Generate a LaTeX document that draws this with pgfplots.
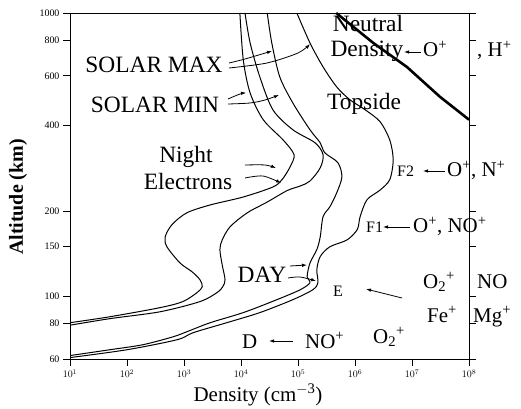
\documentclass[border=0pt]{standalone}
\usepackage{pgfplots}
\pgfplotsset{compat=1.18}
\usepackage{fontspec}
\setmainfont{Liberation Serif}
\usetikzlibrary{arrows.meta}

\newcommand\Lg{\fontsize{23.5}{25}\selectfont}
\newcommand\Md{\fontsize{21}{23}\selectfont}
\newcommand\Sm{\fontsize{16}{18}\selectfont}

% Ionospheric density profiles: log10(density / cm^-3) versus altitude (km)
\pgfplotstableread{
logn alt
1.00 80.6
1.70 84.6
2.58 91.1
2.98 95.7
3.23 103
3.32 108
3.28 114.3
3.14 122
2.93 131
2.70 149.5
2.67 162
2.79 179
3.05 197
3.46 210
4.04 224
4.56 243
4.72 258
4.86 286
4.93 316
4.74 356
4.39 420
4.16 522
4.04 683
3.98 1000
}\nightmin

\pgfplotstableread{
logn alt
1.00 79.0
1.70 83.3
2.58 88.1
3.28 95.7
3.58 103
3.68 108
3.72 114.3
3.67 129
3.63 146
3.67 158
3.81 176
4.11 197
4.46 215
4.81 236
5.04 245
5.21 255
5.39 284
5.44 316
5.30 348
4.91 387
4.56 455
4.33 595
4.16 784
4.07 1000
}\nightmax

\pgfplotstableread{
logn alt
1.00 61.7
1.70 64.7
2.28 67.4
2.81 71.9
3.05 74.9
3.46 80.6
4.04 87.5
4.63 97.2
5.04 105.4
5.21 111.6
5.16 117
5.21 131
5.33 146
5.39 162
5.44 191
5.56 207
5.68 232
5.77 264
5.70 296
5.47 321
5.39 348
5.21 387
4.91 481
4.68 595
4.54 784
4.46 1000
}\daymin

\pgfplotstableread{
logn alt
1.00 60.7
2.00 64.7
2.88 70.2
3.16 74.3
3.75 80.6
4.33 87.5
4.91 97.2
5.26 105.4
5.35 111.6
5.33 124
5.39 138
5.56 149.5
5.86 158
6.04 172
6.09 191
6.21 219
6.44 237
6.61 258
6.67 303
6.61 356
6.44 413
6.18 455
5.91 494
5.68 548
5.44 645
5.21 784
4.98 1000
}\daymax

\pgfplotstableread{
logn alt
5.67 1000
6.32 784
6.91 645
7.49 506
8.00 420
}\neutral

\begin{document}
\begin{tikzpicture}
\begin{scope}[x=1bp,y=-1bp,shift={(-70bp,359bp)}]
  \path[use as bounding box] (0,0) rectangle (521,406);
\end{scope}

\begin{axis}[
  scale only axis, width=399bp, height=346bp,
  xmin=1, xmax=8,
  ymode=log, ymin=60, ymax=1000,
  no markers,
  xtick={1,2,3,4,5,6,7,8},
  xticklabels={$10^1$,$10^2$,$10^3$,$10^4$,$10^5$,$10^6$,$10^7$,$10^8$},
  ytick={60,80,100,150,200,400,600,800,1000},
  yticklabels={60,80,100,150,200,400,600,800,1000},
  yminorticks=false, xminorticks=false,
  xtick pos=left, ytick pos=both, yticklabel pos=left,
  tick align=outside, major tick length=7bp,
  tick style={black, line width=0.7bp},
  axis line style={black, line width=0.9bp},
  tick label style={font=\fontsize{10}{12}\selectfont},
  profile/.style={black, line width=1bp, smooth, tension=0.5, mark=none},
]
\addplot[profile] table[x=logn, y=alt] {\nightmin};
\addplot[profile] table[x=logn, y=alt] {\nightmax};
\addplot[profile] table[x=logn, y=alt] {\daymin};
\addplot[profile] table[x=logn, y=alt] {\daymax};
\addplot[black, line width=2.6bp, mark=none] table[x=logn, y=alt] {\neutral};
\end{axis}

\begin{scope}[x=1bp,y=-1bp,shift={(-70bp,359bp)},
  arr/.style={line width=0.8bp, -{Latex[length=5bp,width=3.5bp]}},
  ion/.style={anchor=base west, font=\Md, inner sep=0pt}]
  % curve labels
  \node[anchor=base, font=\Lg] at (154,73) {SOLAR MAX};
  \node[anchor=base, font=\Lg] at (155,113) {SOLAR MIN};
  \node[anchor=base, font=\Lg] at (186,163) {Night};
  \node[anchor=base, font=\Lg] at (188,190) {Electrons};
  \node[anchor=base, font=\Lg] at (262,282) {DAY};
  \node[anchor=base, font=\Lg] at (368,32) {Neutral};
  \node[anchor=base, font=\Lg] at (367,57) {Density};
  \node[anchor=base, font=\Lg] at (364,110) {Topside};
  \draw[arr] plot[smooth] coordinates {(229,63) (245,59) (272,51)};
  \draw[arr] plot[smooth] coordinates {(229,68) (267,63) (298,53) (310,44)};
  \draw[arr] plot[smooth] coordinates {(228,99) (240,94) (246,93)};
  \draw[arr] plot[smooth] coordinates {(228,104) (250,103) (265,100) (279,95)};
  \draw[arr] plot[smooth] coordinates {(245,165) (265,165) (276,168)};
  \draw[arr] plot[smooth] coordinates {(245,178) (263,176) (281,183)};
  \draw[arr] (290,266) -- (307,265);
  \draw[arr] plot[smooth] coordinates {(288,278) (300,277) (316,281)};
  % ion composition
  \draw[arr] (421,52) -- (404,52);
  \node[ion] at (423,57) {O\textsuperscript{+}};
  \node[ion] at (477,57) {, H\textsuperscript{+}};
  \node[anchor=base west, font=\Sm, inner sep=0pt] at (397,177) {F2};
  \draw[arr] (445,171) -- (423,171);
  \node[ion] at (447,177) {O\textsuperscript{+}, N\textsuperscript{+}};
  \node[anchor=base west, font=\Sm, inner sep=0pt] at (366,233) {F1};
  \draw[arr] (410,227) -- (383,227);
  \node[ion] at (413,233) {O\textsuperscript{+}, NO\textsuperscript{+}};
  \node[anchor=base west, font=\Sm, inner sep=0pt] at (333,296) {E};
  \draw[arr] (402,298) -- (366,289);
  \node[ion] at (423,288) {O\textsubscript{2}\textsuperscript{+}};
  \node[ion] at (477,288) {NO};
  \node[ion] at (427,322) {Fe\textsuperscript{+}};
  \node[ion] at (473,322) {Mg\textsuperscript{+}};
  \node[ion] at (242,348) {D};
  \draw[arr] (293,341) -- (269,341);
  \node[ion] at (305,348) {NO\textsuperscript{+}};
  \node[ion] at (373,343) {O\textsubscript{2}\textsuperscript{+}};
  % axis titles
  \node[rotate=90, font=\fontsize{20}{22}\selectfont\bfseries] at (18,197) {Altitude (km)};
  \node[anchor=base, font=\fontsize{21}{23}\selectfont] at (258,401) {Density (cm\textsuperscript{$-$3})};
\end{scope}
\end{tikzpicture}
\end{document}
